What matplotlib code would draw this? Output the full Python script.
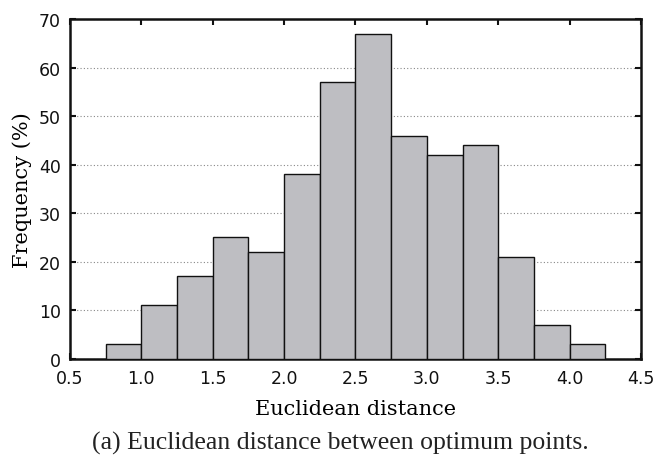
import matplotlib
matplotlib.use("Agg")
import matplotlib.pyplot as plt
import numpy as np

bin_left = [0.75, 1.0, 1.25, 1.5, 1.75, 2.0, 2.25, 2.5, 2.75, 3.0, 3.25, 3.5, 3.75, 4.0]
frequency = [3, 11, 17, 25, 22, 38, 57, 67, 46, 42, 44, 21, 7, 3]
x_ticks = [0.5, 1.0, 1.5, 2.0, 2.5, 3.0, 3.5, 4.0, 4.5]
y_ticks = [0, 10, 20, 30, 40, 50, 60, 70]

fig = plt.figure(figsize=(6.54, 4.56), dpi=100)
ax = fig.add_axes([0.107, 0.211, 0.873, 0.745])

ax.bar(bin_left, frequency, width=0.25, align='edge', color='#bebec2',
       edgecolor='#111111', linewidth=1.0, zorder=3)

ax.set_xlim(0.5, 4.5)
ax.set_ylim(0, 70)
ax.set_xticks(x_ticks)
ax.set_xticklabels([f"{t:.1f}" for t in x_ticks])
ax.set_yticks(y_ticks)
ax.yaxis.grid(True, linestyle=(0, (1, 2)), color='#888888', linewidth=0.8, zorder=0)
ax.tick_params(direction='in', top=True, right=True, length=4, width=1.5,
               labelsize=12.5, colors='#111111')
ax.tick_params(axis='x', pad=7)
ax.tick_params(axis='y', pad=6.5)
for s in ax.spines.values():
    s.set_linewidth(1.8)
    s.set_color('#111111')

ax.set_xlabel("Euclidean distance", family='DejaVu Serif', fontsize=15, labelpad=9)
ax.set_ylabel("Frequency (%)", family='DejaVu Serif', fontsize=15, labelpad=5)

fig.text(0.52, 1 - 443 / 456, "(a) Euclidean distance between optimum points.",
         family='Liberation Serif', fontsize=18.5, ha='center', va='center', color='#222222')

fig.savefig("out.png", dpi=100)
